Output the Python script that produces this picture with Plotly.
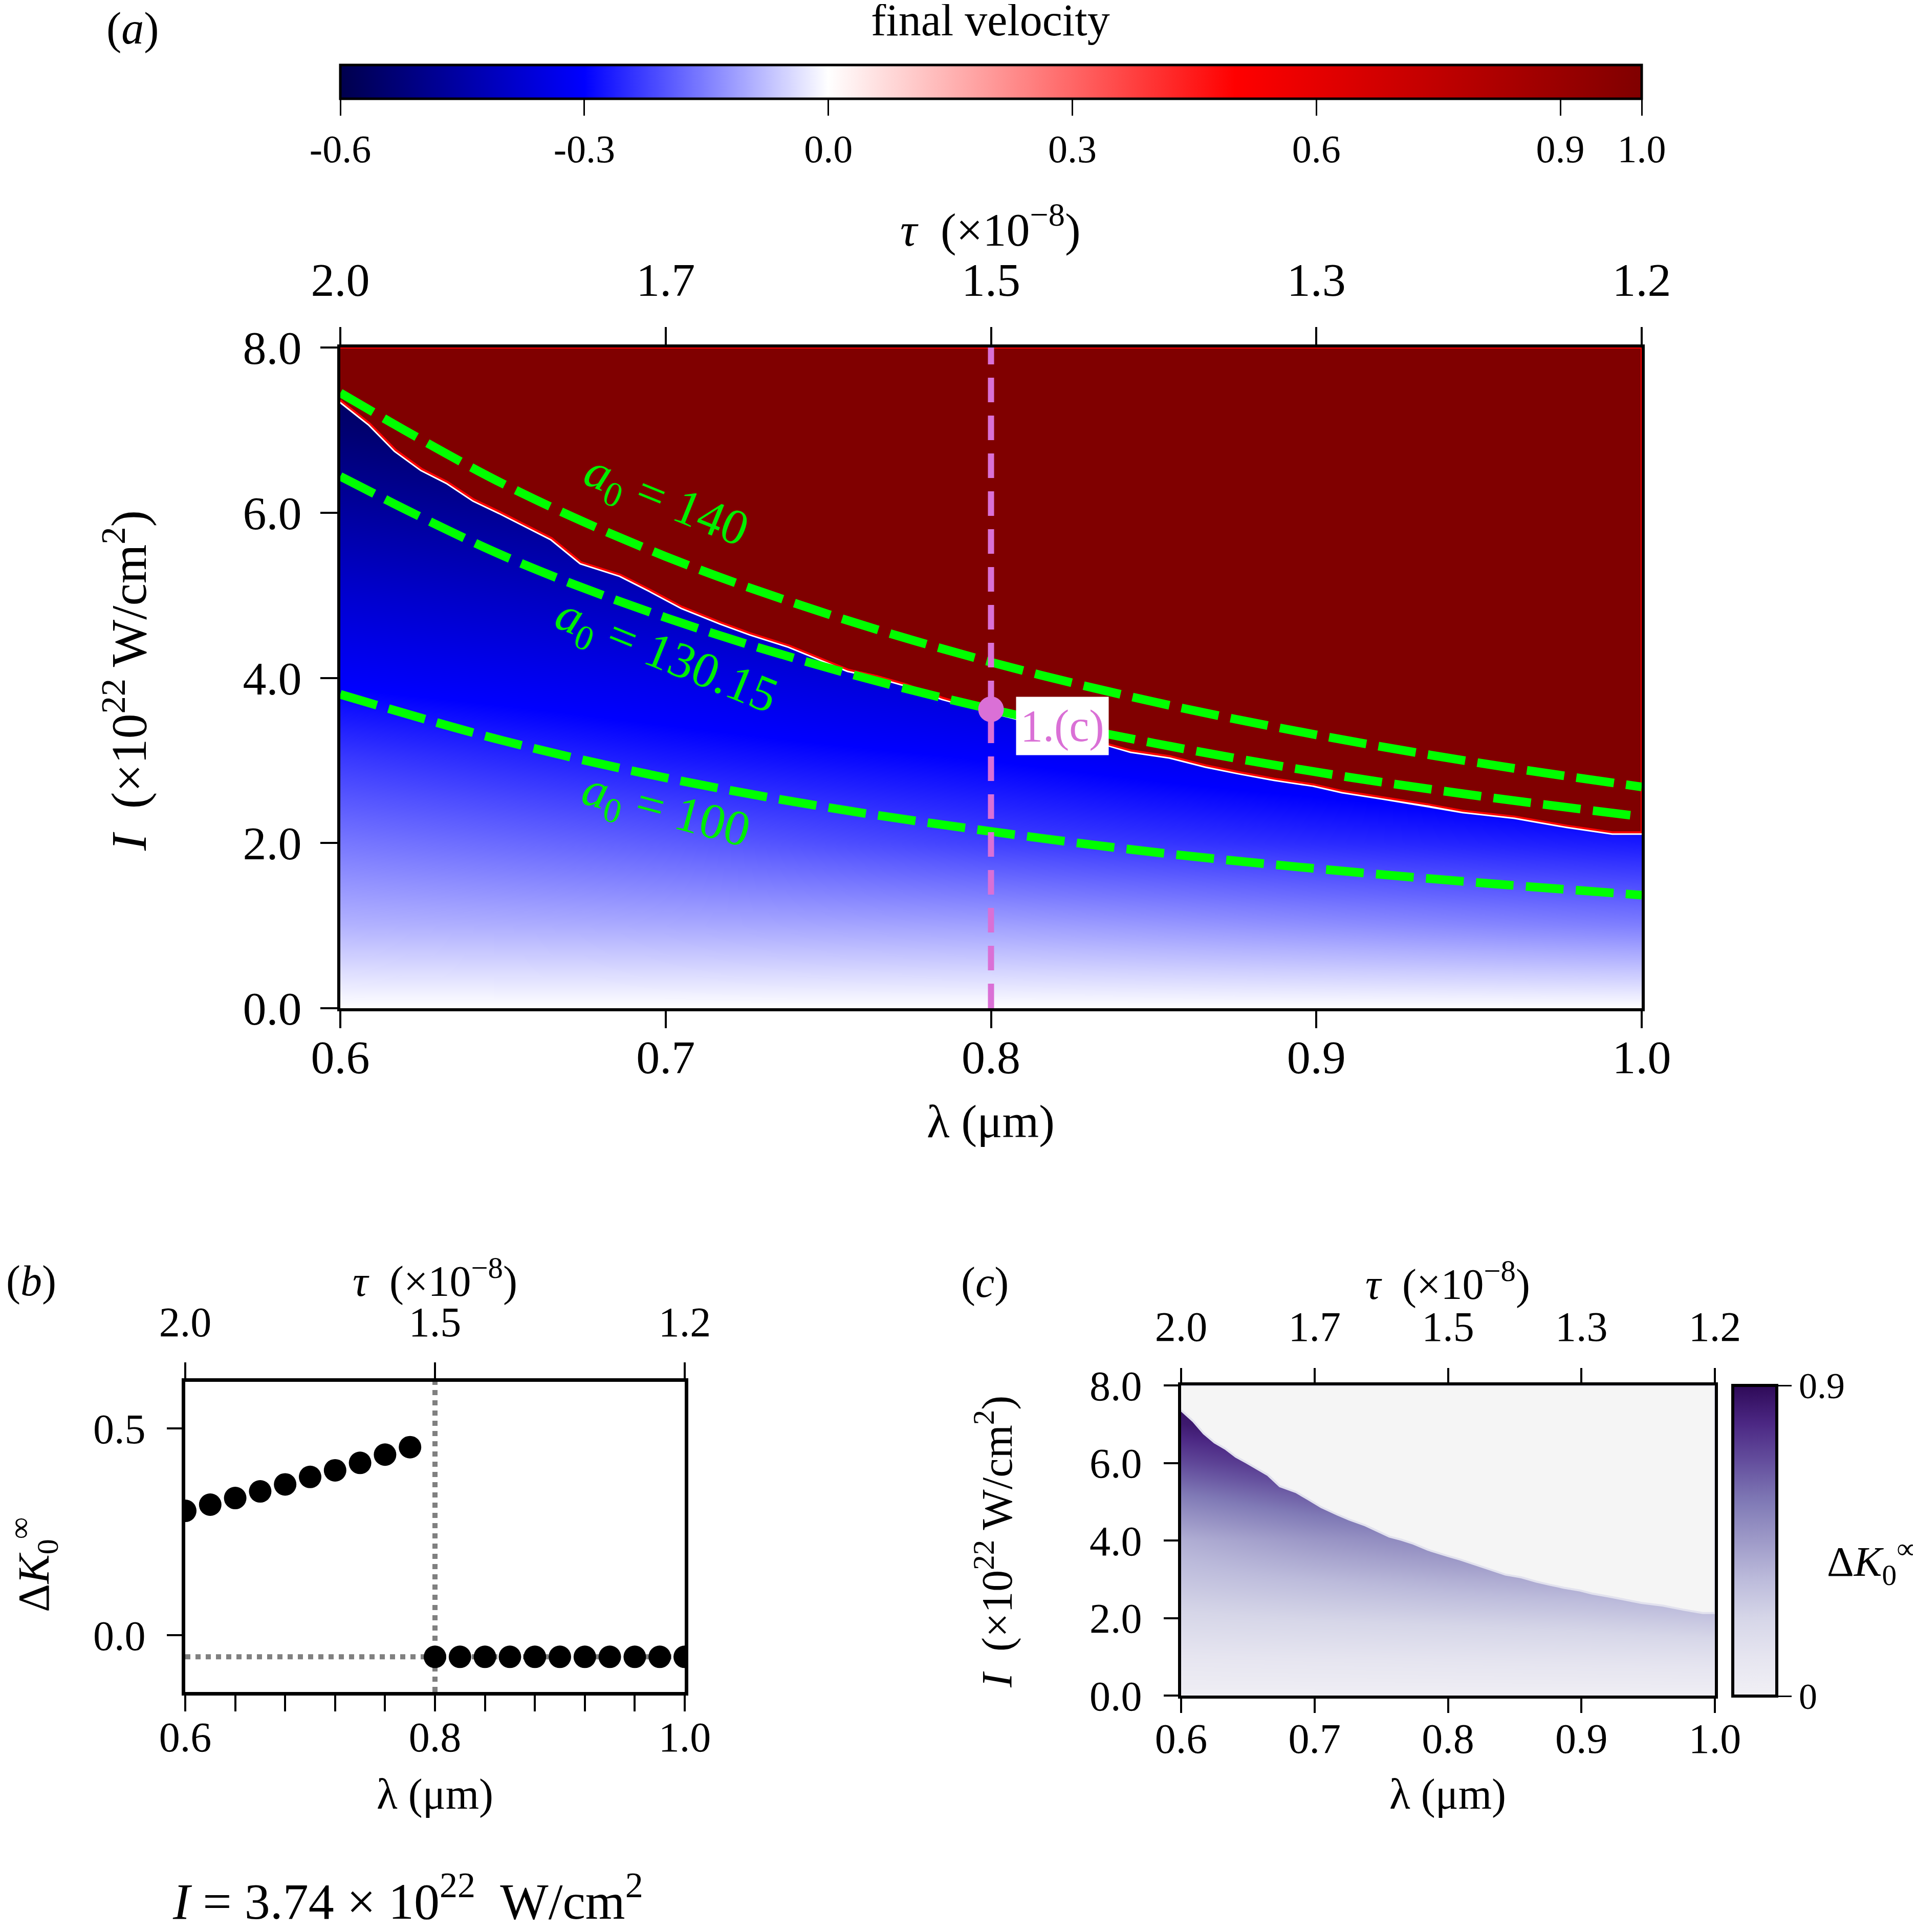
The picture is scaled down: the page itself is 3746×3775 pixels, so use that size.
import plotly.graph_objects as go

W, H = 3746, 3775
FONT = "Liberation Serif"

# ---------------- data ----------------
lam_ticks = [0.6, 0.7, 0.8, 0.9, 1.0]
lam_ticklabels = ["0.6", "0.7", "0.8", "0.9", "1.0"]
tau_ticklabels = ["2.0", "1.7", "1.5", "1.3", "1.2"]
I_ticks = [0, 2, 4, 6, 8]
I_ticklabels = ["0.0", "2.0", "4.0", "6.0", "8.0"]
vel_ticks = [-0.6, -0.3, 0.0, 0.3, 0.6, 0.9, 1.0]
vel_ticklabels = ["-0.6", "-0.3", "0.0", "0.3", "0.6", "0.9", "1.0"]

# coarse grid of final velocity (rows: I, cols: lambda)
grid_lam = [0.6, 0.7, 0.8, 0.9, 1.0]
grid_I = [0, 1, 2, 3, 4, 5, 6, 7, 8]
vel_grid = [
    [0.00, 0.00, 0.00, 0.00, 0.00],
    [-0.09, -0.10, -0.11, -0.13, -0.15],
    [-0.16, -0.19, -0.225, -0.25, -0.27],
    [-0.23, -0.27, -0.30, -0.34, -0.38],
    [-0.31, -0.34, -0.38, -0.42, -0.46],
    [-0.38, -0.42, -0.46, -0.50, -0.54],
    [-0.46, -0.50, -0.54, -0.58, -0.60],
    [-0.54, -0.58, -0.60, -0.60, -0.60],
    [-0.60, -0.60, -0.60, -0.60, -0.60],
]
# coarse grid of Delta K
dK_grid = [
    [0.02, 0.02, 0.02, 0.02, 0.02],
    [0.11, 0.12, 0.13, 0.14, 0.15],
    [0.21, 0.23, 0.25, 0.27, 0.30],
    [0.30, 0.34, 0.38, 0.41, 0.45],
    [0.38, 0.46, 0.52, 0.57, 0.62],
    [0.53, 0.62, 0.68, 0.74, 0.80],
    [0.69, 0.78, 0.86, 0.90, 0.90],
    [0.84, 0.90, 0.90, 0.90, 0.90],
    [0.90, 0.90, 0.90, 0.90, 0.90],
]

# reflection threshold (boundary of the red region)
boundary_lam = [0.600, 0.609, 0.617, 0.625, 0.633, 0.641, 0.649, 0.657, 0.665, 0.674,
                0.686, 0.695, 0.705, 0.717, 0.726, 0.738, 0.746, 0.756, 0.765, 0.774,
                0.785, 0.792, 0.800, 0.809, 0.820, 0.832, 0.843, 0.855, 0.866, 0.876,
                0.887, 0.899, 0.908, 0.921, 0.934, 0.945, 0.961, 0.977, 0.991, 1.000]
boundary_I = [7.36, 7.08, 6.76, 6.53, 6.37, 6.16, 6.01, 5.85, 5.69, 5.40,
              5.25, 5.07, 4.86, 4.67, 4.54, 4.39, 4.26, 4.10, 4.02, 3.92,
              3.76, 3.68, 3.60, 3.51, 3.38, 3.24, 3.12, 3.05, 2.94, 2.86,
              2.78, 2.71, 2.63, 2.55, 2.47, 2.39, 2.32, 2.21, 2.13, 2.13]

# constant a0 curves
curve_lam = [0.60, 0.65, 0.70, 0.75, 0.80, 0.85, 0.90, 0.95, 1.00]
I_a0_140 = [7.45, 6.35, 5.47, 4.77, 4.19, 3.71, 3.31, 2.97, 2.68]
I_a0_130 = [6.44, 5.48, 4.73, 4.12, 3.62, 3.21, 2.86, 2.57, 2.32]
I_a0_100 = [3.80, 3.24, 2.79, 2.43, 2.14, 1.89, 1.69, 1.52, 1.37]

marker_lam = 0.8
marker_I = 3.62

# panel (b)
lam_b = [0.60, 0.62, 0.64, 0.66, 0.68, 0.70, 0.72, 0.74, 0.76, 0.78,
         0.80, 0.82, 0.84, 0.86, 0.88, 0.90, 0.92, 0.94, 0.96, 0.98, 1.00]
dK_b = [0.301, 0.316, 0.332, 0.348, 0.365, 0.383, 0.399, 0.417, 0.437, 0.455,
        -0.052, -0.052, -0.052, -0.052, -0.052, -0.052, -0.052, -0.052, -0.052, -0.052, -0.052]
b_xticks = [0.60, 0.64, 0.68, 0.72, 0.76, 0.80, 0.84, 0.88, 0.92, 0.96, 1.00]
b_xticklabels = ["0.6", "", "", "", "", "0.8", "", "", "", "", "1.0"]
b_topticks = [0.6, 0.8, 1.0]
b_toplabels = ["2.0", "1.5", "1.2"]
b_yticks = [0.0, 0.5]
b_yticklabels = ["0.0", "0.5"]

# ---------------- helpers ----------------
def px(x):
    return x / W


def py(y):
    return 1 - y / H


seismic = [[0.0, "rgb(0,0,77)"], [0.1875, "rgb(0,0,255)"], [0.375, "rgb(255,255,255)"],
           [0.6875, "rgb(255,0,0)"], [1.0, "rgb(128,0,0)"]]
purples = [[0.0, "#f1f0f5"], [0.125, "#e6e5f0"], [0.25, "#d6d6e8"], [0.375, "#bcbbdb"],
           [0.5, "#9e9ac8"], [0.625, "#807ab6"], [0.75, "#65509e"], [0.875, "#4c2884"],
           [1.0, "#2e0a58"]]

fig = go.Figure()

# ---- panel (a) ----
fig.add_trace(go.Heatmap(
    x=grid_lam, y=grid_I, z=vel_grid, zmin=-0.6, zmax=1.0, zsmooth="best",
    colorscale=seismic, xaxis="x", yaxis="y", hoverinfo="skip",
    colorbar=dict(orientation="h", x=px(657), xanchor="left", len=(3200 - 657) / W,
                  lenmode="fraction", y=py(119), yanchor="top", thickness=66,
                  thicknessmode="pixels", outlinewidth=5, outlinecolor="black",
                  ticks="outside", ticklen=31, tickwidth=3, tickcolor="black",
                  tickvals=vel_ticks, ticktext=vel_ticklabels,
                  tickfont=dict(size=76, family=FONT), xpad=0, ypad=0),
))
fig.add_trace(go.Scatter(
    x=boundary_lam, y=boundary_I, mode="lines", xaxis="x", yaxis="y",
    line=dict(color="white", width=10), hoverinfo="skip"))
fig.add_trace(go.Scatter(
    x=boundary_lam + [1.0, 0.6], y=boundary_I + [8, 8], mode="lines", fill="toself",
    fillcolor="rgb(128,0,0)", line=dict(color="rgb(255,0,0)", width=4),
    xaxis="x", yaxis="y", hoverinfo="skip"))
for yy in (I_a0_140, I_a0_130, I_a0_100):
    fig.add_trace(go.Scatter(
        x=curve_lam, y=yy, mode="lines", xaxis="x", yaxis="y",
        line=dict(color="#00ff00", width=17, dash="74px,24px", shape="spline"),
        hoverinfo="skip"))
fig.add_trace(go.Scatter(
    x=[marker_lam], y=[marker_I], mode="markers", xaxis="x2", yaxis="y",
    marker=dict(color="orchid", size=50), hoverinfo="skip"))

# ---- panel (b) ----
fig.add_trace(go.Scatter(
    x=lam_b, y=dK_b, mode="markers", xaxis="x4", yaxis="y3", cliponaxis=True,
    marker=dict(color="black", size=44), hoverinfo="skip"))

# ---- panel (c) ----
fig.add_trace(go.Heatmap(
    x=grid_lam, y=grid_I, z=dK_grid, zmin=0, zmax=0.9, zsmooth="best",
    colorscale=purples, xaxis="x5", yaxis="y5", hoverinfo="skip",
    colorbar=dict(orientation="v", x=px(3378), xanchor="left", y=py(3306),
                  yanchor="bottom", len=(3306 - 2699) / H, lenmode="fraction",
                  thickness=86, thicknessmode="pixels", outlinewidth=6,
                  outlinecolor="black", ticks="outside", ticklen=26, tickwidth=3,
                  tickcolor="black", tickvals=[0, 0.9], ticktext=["0", "0.9"],
                  tickfont=dict(size=72, family=FONT), xpad=0, ypad=0),
))
fig.add_trace(go.Scatter(
    x=boundary_lam + [1.0, 0.6], y=boundary_I + [8, 8], mode="lines", fill="toself",
    fillcolor="#f5f5f5", line=dict(color="#e2e2ee", width=4),
    xaxis="x6", yaxis="y5", hoverinfo="skip"))

# ---------------- axes ----------------
common = dict(showgrid=False, zeroline=False, showline=True, linecolor="black",
              ticks="outside", tickcolor="black")

fig.update_layout(
    width=W, height=H,
    margin=dict(l=0, r=0, t=0, b=0, autoexpand=False),
    paper_bgcolor="white", plot_bgcolor="white",
    font=dict(family=FONT, size=88, color="black"),
    showlegend=False,
    xaxis=dict(**common, domain=[px(657), px(3200)], anchor="y", range=[0.6, 1.0],
               tickvals=lam_ticks, ticktext=lam_ticklabels, ticklen=33, tickwidth=4,
               linewidth=6, tickfont=dict(size=92), ticklabelstandoff=-22),
    xaxis2=dict(**common, overlaying="x", side="top", anchor="y", range=[0.6, 1.0],
                tickvals=lam_ticks, ticktext=tau_ticklabels, ticklen=34, tickwidth=4,
                linewidth=6, tickfont=dict(size=92), ticklabelstandoff=24),
    yaxis=dict(**common, domain=[py(1962), py(671)], anchor="x", range=[0, 8],
               tickvals=I_ticks, ticktext=I_ticklabels, ticklen=33, tickwidth=4,
               linewidth=6, mirror=True, tickfont=dict(size=92), ticklabelstandoff=18),
    xaxis3=dict(**common, domain=[px(354), px(1330)], anchor="y3", range=[0.6, 1.0],
                tickvals=b_xticks, ticktext=b_xticklabels, ticklen=31, tickwidth=4,
                linewidth=7, tickfont=dict(size=82), ticklabelstandoff=-20),
    xaxis4=dict(**common, overlaying="x3", side="top", anchor="y3", range=[0.6, 1.0],
                tickvals=b_topticks, ticktext=b_toplabels, ticklen=31, tickwidth=4,
                linewidth=7, tickfont=dict(size=82), ticklabelstandoff=18),
    yaxis3=dict(**common, domain=[py(3298), py(2692)], anchor="x3", range=[-0.137, 0.613],
                tickvals=b_yticks, ticktext=b_yticklabels, ticklen=29, tickwidth=4,
                linewidth=7, mirror=True, tickfont=dict(size=82), ticklabelstandoff=25),
    xaxis5=dict(**common, domain=[px(2300), px(3343)], anchor="y5", range=[0.6, 1.0],
                tickvals=lam_ticks, ticktext=lam_ticklabels, ticklen=28, tickwidth=4,
                linewidth=6, tickfont=dict(size=82), ticklabelstandoff=-20),
    xaxis6=dict(**common, overlaying="x5", side="top", anchor="y5", range=[0.6, 1.0],
                tickvals=lam_ticks, ticktext=tau_ticklabels, ticklen=28, tickwidth=4,
                linewidth=6, tickfont=dict(size=82), ticklabelstandoff=20),
    yaxis5=dict(**common, domain=[py(3305), py(2699)], anchor="x5", range=[0, 8],
                tickvals=I_ticks, ticktext=I_ticklabels, ticklen=28, tickwidth=4,
                linewidth=6, mirror=True, tickfont=dict(size=82), ticklabelstandoff=26),
)

# ---------------- shapes ----------------
fig.add_shape(type="line", xref="x", yref="y domain", x0=marker_lam, x1=marker_lam,
              y0=0, y1=1, line=dict(color="orchid", width=12, dash="48px,26px"))
fig.add_shape(type="line", xref="x3 domain", yref="y3", x0=0, x1=1,
              y0=dK_b[-1], y1=dK_b[-1], layer="below",
              line=dict(color="#808080", width=10, dash="dot"))
fig.add_shape(type="line", xref="x3", yref="y3 domain", x0=lam_b[10], x1=lam_b[10],
              y0=0, y1=1, layer="below",
              line=dict(color="#808080", width=10, dash="dot"))

# ---------------- annotations ----------------
def ann(x, y, text, size, angle=0, color="black"):
    fig.add_annotation(x=px(x), y=py(y), xref="paper", yref="paper", text=text,
                       showarrow=False, xanchor="center", yanchor="middle",
                       textangle=angle, font=dict(size=size, color=color, family=FONT))


ann(251, 48, "(<i>a</i>)", 88)
ann(1928, 32, "final velocity", 88)
ann(1928, 434, "<i>τ</i>  (×10<sup>−8</sup>)", 92)
ann(236, 1322, "<i>I</i>  (×10<sup>22</sup> W/cm<sup>2</sup>)", 98, angle=-90)
ann(1928, 2183, "λ (μm)", 92)

ann(53, 2495, "(<i>b</i>)", 84)
ann(842, 2490, "<i>τ</i>  (×10<sup>−8</sup>)", 84)
ann(57, 3049, "Δ<i>K</i><sub>0</sub><sup>∞</sup>", 86, angle=-90)
ann(842, 3498, "λ (μm)", 84)
ann(789, 3700, "<i>I</i> = 3.74 × 10<sup>22</sup>  W/cm<sup>2</sup>", 100)

ann(1916, 2498, "(<i>c</i>)", 84)
ann(2821, 2496, "<i>τ</i>  (×10<sup>−8</sup>)", 84)
ann(1935, 3005, "<i>I</i>  (×10<sup>22</sup> W/cm<sup>2</sup>)", 84, angle=-90)
ann(2821, 3498, "λ (μm)", 84)
ann(3650, 3043, "Δ<i>K</i><sub>0</sub><sup>∞</sup>", 82)

green_labels = [(0.700, 6.12, "<i>a</i><sub>0</sub> = 140", 22),
                (0.700, 4.24, "<i>a</i><sub>0</sub> = 130.15", 22),
                (0.700, 2.37, "<i>a</i><sub>0</sub> = 100", 15)]
for gx, gy, gt, ga in green_labels:
    fig.add_annotation(x=gx, y=gy, xref="x", yref="y", text=gt, showarrow=False,
                       textangle=ga, xanchor="center", yanchor="middle",
                       font=dict(size=98, color="#00ee00", family=FONT))

fig.add_annotation(x=0.822, y=3.42, xref="x", yref="y", text="1.(c)", showarrow=False,
                   xanchor="center", yanchor="middle", bgcolor="white", borderpad=8,
                   font=dict(size=88, color="orchid", family=FONT))

fig.write_html("out.html")
